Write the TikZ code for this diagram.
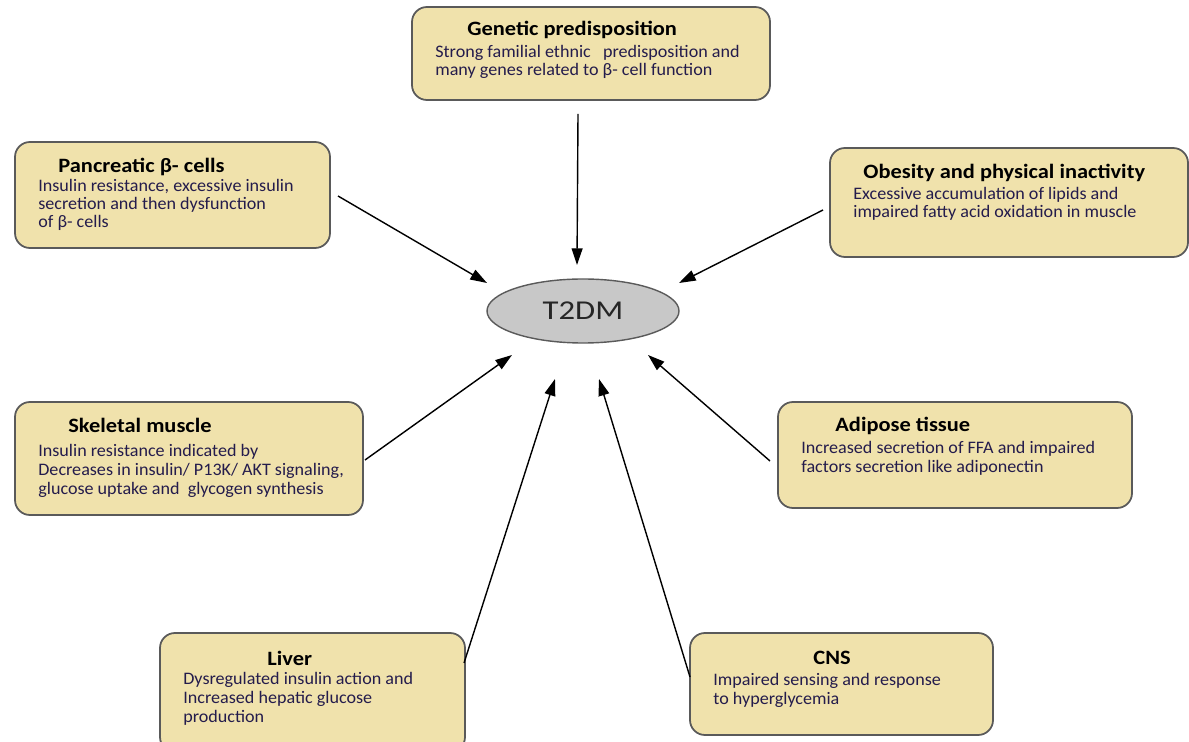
\documentclass[tikz,border=0pt]{standalone}
\usepackage{fontspec}
\setmainfont{Carlito}
\usetikzlibrary{arrows.meta,shapes.geometric}
\definecolor{boxfill}{RGB}{240,226,172}
\definecolor{boxline}{RGB}{90,90,90}
\definecolor{bodycol}{RGB}{36,28,76}
\definecolor{ellfill}{RGB}{200,200,200}
\begin{document}
\begin{tikzpicture}[x=0.02cm,y=-0.02cm,
  infobox/.style={draw=boxline,line width=1pt,fill=boxfill,rounded corners=8.5pt},
  titletext/.style={anchor=base west,inner sep=0pt,xscale=1.1,font=\fontsize{11.6}{13}\selectfont\bfseries,text=black},
  bodytext/.style={anchor=base west,inner sep=0pt,xscale=1.03,font=\fontsize{10}{11}\selectfont,text=bodycol},
  arr/.style={line width=0.8pt,-{Triangle[length=9.5pt,width=6.2pt]}}]
\useasboundingbox (0,0) rectangle (1189,742);

% boxes
\newcommand\infobx[5]{\node[infobox,inner sep=0pt,minimum width={(#4-#2)*0.02cm},minimum height={(#5-#3)*0.02cm}] (#1) at ({(#2+#4)/2},{(#3+#5)/2}) {};}
\infobx{gen}{412}{7}{770}{100}
\infobx{pan}{15}{142}{330}{248}
\infobx{obe}{830}{148}{1188}{257}
\infobx{ske}{15}{402}{363}{515}
\infobx{adi}{778}{402}{1132}{508}
\infobx{liv}{160}{633}{465}{752}
\infobx{cns}{690}{633}{993}{735}

% center ellipse
\node[ellipse,draw=boxline,line width=0.8pt,fill=ellfill,minimum width={192*0.02cm},minimum height={64*0.02cm},inner sep=0pt] (t2dm) at (583,311) {};
\node[xscale=1.2,inner sep=0pt,font=\fontsize{15.5}{17}\selectfont,text=black!85] (t2dm-t) at (583,311) {T2DM};

% texts
\node[titletext] (gen-t) at (467,36) {Genetic predisposition};
\foreach \t [count=\i] in {{Strong familial ethnic\ \ \ predisposition and},{many genes related to β- cell function}}
  \node[bodytext] (gen-b\i) at (435,{58+18*(\i-1)}) {\t};

\node[titletext] (pan-t) at (58,173) {Pancreatic β- cells};
\foreach \t [count=\i] in {{Insulin resistance, excessive insulin},{secretion and then dysfunction},{of β- cells}}
  \node[bodytext] (pan-b\i) at (38,{192+18*(\i-1)}) {\t};

\node[titletext] (obe-t) at (863,179) {Obesity and physical inactivity};
\foreach \t [count=\i] in {{Excessive accumulation of lipids and},{impaired fatty acid oxidation in muscle}}
  \node[bodytext] (obe-b\i) at (853,{200+18*(\i-1)}) {\t};

\node[titletext] (ske-t) at (68,433) {Skeletal muscle};
\foreach \t [count=\i] in {{Insulin resistance indicated by},{Decreases in insulin/ P13K/ AKT signaling,},{glucose uptake and\ \ glycogen synthesis}}
  \node[bodytext] (ske-b\i) at (38,{457+18.8*(\i-1)}) {\t};

\node[titletext] (adi-t) at (835,432) {Adipose tissue};
\foreach \t [count=\i] in {{Increased secretion of FFA and impaired},{factors secretion like adiponectin}}
  \node[bodytext] (adi-b\i) at (801,{454+18.8*(\i-1)}) {\t};

\node[titletext] (liv-t) at (267,665) {Liver};
\foreach \t [count=\i] in {{Dysregulated insulin action and},{Increased hepatic glucose},{production}}
  \node[bodytext] (liv-b\i) at (183,{684+19*(\i-1)}) {\t};

\node[titletext] (cns-t) at (813,664) {CNS};
\foreach \t [count=\i] in {{Impaired sensing and response},{to hyperglycemia}}
  \node[bodytext] (cns-b\i) at (713,{685+19*(\i-1)}) {\t};

% connector end points
\coordinate (gen-o) at (578,114);  \coordinate (gen-i) at (577,265);
\coordinate (pan-o) at (338,196);  \coordinate (pan-i) at (487,283);
\coordinate (obe-o) at (823,210);  \coordinate (obe-i) at (679,283);
\coordinate (ske-o) at (365,460);  \coordinate (ske-i) at (512,355);
\coordinate (adi-o) at (770,461);  \coordinate (adi-i) at (648,355);
\coordinate (liv-o) at (464,663);  \coordinate (liv-i) at (555,379);
\coordinate (cns-o) at (690,677);  \coordinate (cns-i) at (599,379);

\foreach \n in {gen,pan,obe,ske,adi,liv,cns}
  \draw[arr] (\n-o) -- (\n-i);
\end{tikzpicture}
\end{document}
